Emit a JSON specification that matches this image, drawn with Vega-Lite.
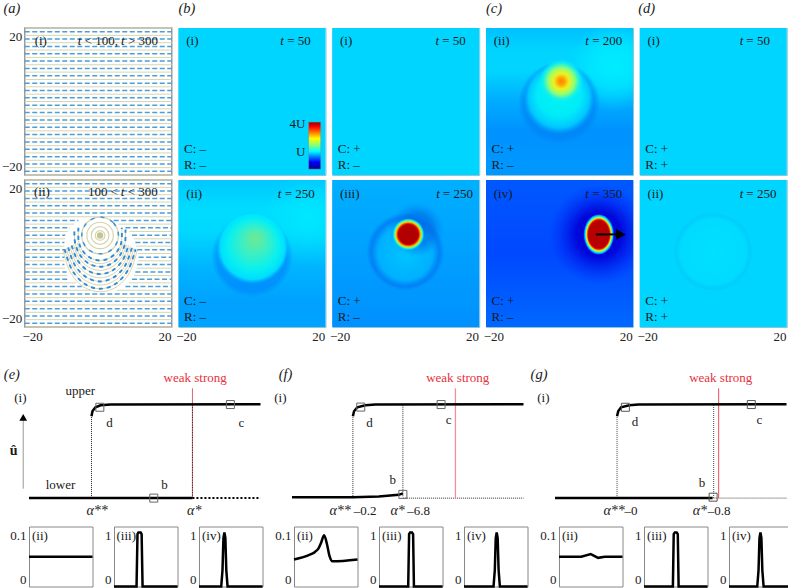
{"$schema":"https://vega.github.io/schema/vega-lite/v6.json","padding":{"left":0,"top":0,"right":0,"bottom":0},"background":"white","config":{"font":"Liberation Serif","view":{"stroke":null},"axis":{"ticks":false,"domain":false,"grid":false,"labelFontSize":13,"labelColor":"#222","labelOverlap":false,"labelPadding":3},"text":{"fontSize":13,"color":"#1a1a1a"}},
"datasets":{
"tanFull":[{"y":20,"x":-20,"x2":20},{"y":18,"x":-20,"x2":20},{"y":16,"x":-20,"x2":20},{"y":14,"x":-20,"x2":20},{"y":12,"x":-20,"x2":20},{"y":10,"x":-20,"x2":20},{"y":8,"x":-20,"x2":20},{"y":6,"x":-20,"x2":20},{"y":4,"x":-20,"x2":20},{"y":2,"x":-20,"x2":20},{"y":0,"x":-20,"x2":20},{"y":-2,"x":-20,"x2":20},{"y":-4,"x":-20,"x2":20},{"y":-6,"x":-20,"x2":20},{"y":-8,"x":-20,"x2":20},{"y":-10,"x":-20,"x2":20},{"y":-12,"x":-20,"x2":20},{"y":-14,"x":-20,"x2":20},{"y":-16,"x":-20,"x2":20},{"y":-18,"x":-20,"x2":20},{"y":-20,"x":-20,"x2":20}],
"blueFull":[{"y":19,"x":-20,"x2":20},{"y":17,"x":-20,"x2":20},{"y":15,"x":-20,"x2":20},{"y":13,"x":-20,"x2":20},{"y":11,"x":-20,"x2":20},{"y":9,"x":-20,"x2":20},{"y":7,"x":-20,"x2":20},{"y":5,"x":-20,"x2":20},{"y":3,"x":-20,"x2":20},{"y":1,"x":-20,"x2":20},{"y":-1,"x":-20,"x2":20},{"y":-3,"x":-20,"x2":20},{"y":-5,"x":-20,"x2":20},{"y":-7,"x":-20,"x2":20},{"y":-9,"x":-20,"x2":20},{"y":-11,"x":-20,"x2":20},{"y":-13,"x":-20,"x2":20},{"y":-15,"x":-20,"x2":20},{"y":-17,"x":-20,"x2":20},{"y":-19,"x":-20,"x2":20}],
"tanGap":[{"y":20,"x":-20,"x2":20},{"y":18,"x":-20,"x2":20},{"y":16,"x":-20,"x2":20},{"y":14,"x":-20,"x2":20},{"y":12,"x":-20,"x2":20},{"y":10,"x":-20,"x2":20},{"y":8,"x":-20,"x2":-6.5},{"y":8,"x":5.5,"x2":20},{"y":6,"x":-20,"x2":-8.3},{"y":6,"x":8.5,"x2":20},{"y":4,"x":-20,"x2":-9},{"y":4,"x":9.7,"x2":20},{"y":2,"x":-20,"x2":-9.2},{"y":2,"x":10.3,"x2":20},{"y":0,"x":-20,"x2":-9.2},{"y":0,"x":10.8,"x2":20},{"y":-2,"x":-20,"x2":-9.2},{"y":-2,"x":10.8,"x2":20},{"y":-4,"x":-20,"x2":-9},{"y":-4,"x":10.4,"x2":20},{"y":-6,"x":-20,"x2":-8.4},{"y":-6,"x":9.7,"x2":20},{"y":-8,"x":-20,"x2":-6},{"y":-8,"x":8.3,"x2":20},{"y":-10,"x":-20,"x2":-2},{"y":-10,"x":5,"x2":20},{"y":-12,"x":-20,"x2":20},{"y":-14,"x":-20,"x2":20},{"y":-16,"x":-20,"x2":20},{"y":-18,"x":-20,"x2":20},{"y":-20,"x":-20,"x2":20}],
"blueGap":[{"y":19,"x":-20,"x2":20},{"y":17,"x":-20,"x2":20},{"y":15,"x":-20,"x2":20},{"y":13,"x":-20,"x2":20},{"y":11,"x":-20,"x2":20},{"y":9,"x":-20,"x2":-5.4},{"y":9,"x":4.2,"x2":20},{"y":7,"x":-20,"x2":-7.7},{"y":7,"x":7.4,"x2":20},{"y":5,"x":-20,"x2":-9},{"y":5,"x":9.2,"x2":20},{"y":3,"x":-20,"x2":-9.2},{"y":3,"x":10.1,"x2":20},{"y":1,"x":-20,"x2":-9.2},{"y":1,"x":10.6,"x2":20},{"y":-1,"x":-20,"x2":-9.2},{"y":-1,"x":11,"x2":20},{"y":-3,"x":-20,"x2":-9.2},{"y":-3,"x":10.6,"x2":20},{"y":-5,"x":-20,"x2":-8.6},{"y":-5,"x":10.1,"x2":20},{"y":-7,"x":-20,"x2":-8.1},{"y":-7,"x":9.2,"x2":20},{"y":-9,"x":-20,"x2":-4.5},{"y":-9,"x":7.4,"x2":20},{"y":-11,"x":-20,"x2":20},{"y":-13,"x":-20,"x2":20},{"y":-15,"x":-20,"x2":20},{"y":-17,"x":-20,"x2":20},{"y":-19,"x":-20,"x2":20}],
"arcs":[{"s":"A","x":-9.16,"y":1.14},{"s":"A","x":-7.16,"y":-4.42},{"s":"A","x":-3.73,"y":-8.24},{"s":"A","x":0.5,"y":-9.6},{"s":"A","x":4.73,"y":-8.24},{"s":"A","x":8.16,"y":-4.42},{"s":"A","x":10.16,"y":1.14},
{"s":"B","x":-8.19,"y":1.66},{"s":"B","x":-6.39,"y":-3.14},{"s":"B","x":-3.31,"y":-6.43},{"s":"B","x":0.5,"y":-7.6},{"s":"B","x":4.31,"y":-6.43},{"s":"B","x":7.39,"y":-3.14},{"s":"B","x":9.19,"y":1.66},
{"s":"C","x":-7.23,"y":2.18},{"s":"C","x":-5.63,"y":-1.85},{"s":"C","x":-2.88,"y":-4.61},{"s":"C","x":0.5,"y":-5.6},{"s":"C","x":3.88,"y":-4.61},{"s":"C","x":6.63,"y":-1.85},{"s":"C","x":8.23,"y":2.18},
{"s":"D","x":-6.5,"y":6},{"s":"D","x":-6.26,"y":2.7},{"s":"D","x":-4.86,"y":-0.57},{"s":"D","x":-2.46,"y":-2.8},{"s":"D","x":0.5,"y":-3.6},{"s":"D","x":3.46,"y":-2.8},{"s":"D","x":5.86,"y":-0.57},{"s":"D","x":7.26,"y":2.7},{"s":"D","x":7.4,"y":6.5},
{"s":"E","x":-5.4,"y":7},{"s":"E","x":-5.3,"y":3.14},{"s":"E","x":-4.1,"y":0.53},{"s":"E","x":-2.04,"y":-1.26},{"s":"E","x":0.5,"y":-1.9},{"s":"E","x":3.04,"y":-1.26},{"s":"E","x":5.1,"y":0.53},{"s":"E","x":6.3,"y":3.14},{"s":"E","x":6.4,"y":7}],
"arcsTan":[{"s":"a","x":-8.68,"y":1.4},{"s":"a","x":-6.78,"y":-3.78},{"s":"a","x":-3.52,"y":-7.33},{"s":"a","x":0.5,"y":-8.6},{"s":"a","x":4.52,"y":-7.33},{"s":"a","x":7.78,"y":-3.78},{"s":"a","x":9.68,"y":1.4},
{"s":"b","x":-7.71,"y":1.92},{"s":"b","x":-6.01,"y":-2.5},{"s":"b","x":-3.1,"y":-5.52},{"s":"b","x":0.5,"y":-6.6},{"s":"b","x":4.1,"y":-5.52},{"s":"b","x":7.01,"y":-2.5},{"s":"b","x":8.71,"y":1.92},
{"s":"c","x":-6.75,"y":2.44},{"s":"c","x":-5.25,"y":-1.21},{"s":"c","x":-2.67,"y":-3.7},{"s":"c","x":0.5,"y":-4.6},{"s":"c","x":3.67,"y":-3.7},{"s":"c","x":6.25,"y":-1.21},{"s":"c","x":7.75,"y":2.44},
{"s":"d","x":-5.78,"y":2.92},{"s":"d","x":-4.48,"y":-0.02},{"s":"d","x":-2.25,"y":-2.03},{"s":"d","x":0.5,"y":-2.75},{"s":"d","x":3.25,"y":-2.03},{"s":"d","x":5.48,"y":-0.02},{"s":"d","x":6.78,"y":2.92},
{"s":"e","x":-9.6,"y":0.9},{"s":"e","x":-7.6,"y":-5.1},{"s":"e","x":-4,"y":-9.1},{"s":"e","x":0.5,"y":-10.4},{"s":"e","x":5,"y":-9.1},{"s":"e","x":8.6,"y":-5.1},{"s":"e","x":10.6,"y":0.9}],
"rings":[{"s":"r5","i":1,"x":5.5,"y":4.9},{"s":"r5","i":2,"x":4.04,"y":8.44},{"s":"r5","i":3,"x":0.5,"y":9.9},{"s":"r5","i":4,"x":-3.04,"y":8.44},{"s":"r5","i":5,"x":-4.5,"y":4.9},{"s":"r5","i":6,"x":-3.04,"y":1.36},{"s":"r5","i":7,"x":0.5,"y":-0.1},{"s":"r5","i":8,"x":4.04,"y":1.36},
{"s":"r3","i":1,"x":4.1,"y":4.9},{"s":"r3","i":2,"x":3.05,"y":7.45},{"s":"r3","i":3,"x":0.5,"y":8.5},{"s":"r3","i":4,"x":-2.05,"y":7.45},{"s":"r3","i":5,"x":-3.1,"y":4.9},{"s":"r3","i":6,"x":-2.05,"y":2.35},{"s":"r3","i":7,"x":0.5,"y":1.3},{"s":"r3","i":8,"x":3.05,"y":2.35},
{"s":"r2","i":1,"x":2.9,"y":4.9},{"s":"r2","i":2,"x":2.2,"y":6.6},{"s":"r2","i":3,"x":0.5,"y":7.3},{"s":"r2","i":4,"x":-1.2,"y":6.6},{"s":"r2","i":5,"x":-1.9,"y":4.9},{"s":"r2","i":6,"x":-1.2,"y":3.2},{"s":"r2","i":7,"x":0.5,"y":2.5},{"s":"r2","i":8,"x":2.2,"y":3.2},
{"s":"r1","i":1,"x":1.8,"y":4.9},{"s":"r1","i":2,"x":1.42,"y":5.82},{"s":"r1","i":3,"x":0.5,"y":6.2},{"s":"r1","i":4,"x":-0.42,"y":5.82},{"s":"r1","i":5,"x":-0.8,"y":4.9},{"s":"r1","i":6,"x":-0.42,"y":3.98},{"s":"r1","i":7,"x":0.5,"y":3.6},{"s":"r1","i":8,"x":1.42,"y":3.98}],
"full":[{"x":-20,"x2":20,"y":-20,"y2":20}]
},
"vconcat":[
{"concat":[
{"width":16.5,"height":10,"data":{"values":[]},"mark":"point"},
{"width":147,"height":147,"view":{"stroke":"#999","strokeWidth":1.5},"encoding":{"x":{"field":"x","type":"quantitative","scale":{"domain":[-20,20]},"axis":null},"y":{"field":"y","type":"quantitative","scale":{"domain":[-20,20]},"axis":{"values":[-17.8,17.8],"labelExpr":"datum.value<0?'−20':'20'","title":null}}},"layer":[
{"data":{"name":"tanFull"},"mark":{"type":"rule","color":"#d8d5b0","strokeWidth":1},"encoding":{"x2":{"field":"x2"}}},
{"data":{"name":"blueFull"},"mark":{"type":"rule","color":"#4a9fdc","strokeWidth":1.5,"strokeDash":[5,2.5]},"encoding":{"x2":{"field":"x2"}}},
{"data":{"values":[{"x":-17.3,"y":16.5,"t":"(i)"},{"x":-3.7,"y":16.5,"t":"< 100,"},{"x":8.1,"y":16.5,"t":"> 300"}]},"mark":{"type":"text","align":"left"},"encoding":{"text":{"field":"t"}}},
{"data":{"values":[{"x":-5.1,"y":16.5,"t":"t"},{"x":6.7,"y":16.5,"t":"t"}]},"mark":{"type":"text","fontStyle":"italic"},"encoding":{"text":{"field":"t"}}},
{"data":{"values":[{"x":-25.8,"y":25.2,"t":"(a)"}]},"mark":{"type":"text","align":"left","fontStyle":"italic","fontSize":14.5},"encoding":{"text":{"field":"t"}}}
]},
{"width":147,"height":147,"view":{"stroke":"#8fc4d8"},"encoding":{"x":{"field":"x","type":"quantitative","scale":{"domain":[-20,20]},"axis":null},"y":{"field":"y","type":"quantitative","scale":{"domain":[-20,20]},"axis":null}},"layer":[
{"data":{"name":"full"},"mark":{"type":"rect","fill":"#00d5ff"},"encoding":{"x2":{"field":"x2"},"y2":{"field":"y2"}}},
{"data":{"values":[{"x":15.4,"x2":18.7,"y":-18.4,"y2":-5.6}]},"mark":{"type":"rect","stroke":"#5a9aa8","strokeWidth":0.5,"fill":{"gradient":"linear","x1":0,"y1":0,"x2":0,"y2":1,"stops":[{"offset":0,"color":"#900000"},{"offset":0.1,"color":"#ff0000"},{"offset":0.35,"color":"#ffff00"},{"offset":0.5,"color":"#80ff80"},{"offset":0.62,"color":"#00ffff"},{"offset":0.85,"color":"#0000ff"},{"offset":1,"color":"#000080"}]}},"encoding":{"x2":{"field":"x2"},"y2":{"field":"y2"}}},
{"data":{"values":[{"x":14.5,"y":-6.1,"t":"4U"},{"x":14.5,"y":-13.7,"t":"U"}]},"mark":{"type":"text","align":"right"},"encoding":{"text":{"field":"t"}}},
{"data":{"values":[{"x":-17.9,"y":16.5,"t":"(i)"},{"x":9.6,"y":16.5,"t":"= 50"},{"x":-18.5,"y":-12.8,"t":"C: –"},{"x":-18.5,"y":-17.4,"t":"R: –"}]},"mark":{"type":"text","align":"left"},"encoding":{"text":{"field":"t"}}},
{"data":{"values":[{"x":8.2,"y":16.5,"t":"t"}]},"mark":{"type":"text","fontStyle":"italic"},"encoding":{"text":{"field":"t"}}},
{"data":{"values":[{"x":-20,"y":25.2,"t":"(b)"}]},"mark":{"type":"text","align":"left","fontStyle":"italic","fontSize":14.5},"encoding":{"text":{"field":"t"}}}
]},
{"width":147,"height":147,"view":{"stroke":"#8fc4d8"},"encoding":{"x":{"field":"x","type":"quantitative","scale":{"domain":[-20,20]},"axis":null},"y":{"field":"y","type":"quantitative","scale":{"domain":[-20,20]},"axis":null}},"layer":[
{"data":{"name":"full"},"mark":{"type":"rect","fill":"#00d5ff"},"encoding":{"x2":{"field":"x2"},"y2":{"field":"y2"}}},
{"data":{"values":[{"x":-17.9,"y":16.5,"t":"(i)"},{"x":9.9,"y":16.5,"t":"= 50"},{"x":-18.5,"y":-12.8,"t":"C: +"},{"x":-18.5,"y":-17.4,"t":"R: –"}]},"mark":{"type":"text","align":"left"},"encoding":{"text":{"field":"t"}}},
{"data":{"values":[{"x":8.6,"y":16.5,"t":"t"}]},"mark":{"type":"text","fontStyle":"italic"},"encoding":{"text":{"field":"t"}}}
]},
{"width":147,"height":147,"view":{"stroke":"#8fc4d8"},"encoding":{"x":{"field":"x","type":"quantitative","scale":{"domain":[-20,20]},"axis":null},"y":{"field":"y","type":"quantitative","scale":{"domain":[-20,20]},"axis":null}},"layer":[
{"data":{"name":"full"},"mark":{"type":"rect","fill":{"gradient":"linear","x1":0,"y1":0,"x2":0,"y2":1,"stops":[{"offset":0,"color":"#00c0ff"},{"offset":0.15,"color":"#00d4ff"},{"offset":0.3,"color":"#00d4ff"},{"offset":0.5,"color":"#00acff"},{"offset":0.7,"color":"#0092ff"},{"offset":1,"color":"#0098ff"}]}},"encoding":{"x2":{"field":"x2"},"y2":{"field":"y2"}}},
{"data":{"values":[{"x":15,"y":9.5}]},"mark":{"type":"point","filled":true,"opacity":1,"size":8100,"clip":true,"fill":{"gradient":"radial","x1":0.5,"y1":0.5,"r1":0,"x2":0.5,"y2":0.5,"r2":0.5,"stops":[{"offset":0,"color":"rgba(0,240,255,0.85)"},{"offset":0.5,"color":"rgba(0,240,255,0.6)"},{"offset":1,"color":"rgba(0,240,255,0)"}]}}},
{"data":{"values":[{"x":-0.1,"y":-0.5}]},"mark":{"type":"point","filled":true,"opacity":1,"size":6724,"fill":{"gradient":"radial","x1":0.5,"y1":0.5,"r1":0,"x2":0.5,"y2":0.5,"r2":0.5,"stops":[{"offset":0,"color":"rgba(0,130,245,0.7)"},{"offset":0.85,"color":"rgba(0,130,245,0.7)"},{"offset":1,"color":"rgba(0,130,245,0)"}]}}},
{"data":{"values":[{"x":-0.1,"y":0.8}]},"mark":{"type":"point","filled":true,"opacity":1,"size":5184,"fill":{"gradient":"radial","x1":0.5,"y1":0.35,"r1":0,"x2":0.5,"y2":0.5,"r2":0.5,"stops":[{"offset":0,"color":"#00f4f0"},{"offset":0.6,"color":"#00ecf8"},{"offset":0.85,"color":"#00c8ff"},{"offset":1,"color":"rgba(0,170,255,0)"}]}}},
{"data":{"values":[{"x":0.5,"y":5.5}]},"mark":{"type":"point","filled":true,"opacity":1,"size":1936,"fill":{"gradient":"radial","x1":0.5,"y1":0.5,"r1":0,"x2":0.5,"y2":0.5,"r2":0.5,"stops":[{"offset":0,"color":"#ff8000"},{"offset":0.15,"color":"#ffa000"},{"offset":0.35,"color":"#f0f020"},{"offset":0.6,"color":"#90ff70"},{"offset":0.8,"color":"#20f0e0"},{"offset":1,"color":"rgba(0,240,255,0)"}]}}},
{"data":{"values":[{"x":-17.9,"y":16.5,"t":"(ii)"},{"x":8.9,"y":16.5,"t":"= 200"},{"x":-18.5,"y":-12.8,"t":"C: +"},{"x":-18.5,"y":-17.4,"t":"R: –"}]},"mark":{"type":"text","align":"left"},"encoding":{"text":{"field":"t"}}},
{"data":{"values":[{"x":7.5,"y":16.5,"t":"t"}]},"mark":{"type":"text","fontStyle":"italic"},"encoding":{"text":{"field":"t"}}},
{"data":{"values":[{"x":-20,"y":25.2,"t":"(c)"}]},"mark":{"type":"text","align":"left","fontStyle":"italic","fontSize":14.5},"encoding":{"text":{"field":"t"}}}
]},
{"width":147,"height":147,"view":{"stroke":"#8fc4d8"},"encoding":{"x":{"field":"x","type":"quantitative","scale":{"domain":[-20,20]},"axis":null},"y":{"field":"y","type":"quantitative","scale":{"domain":[-20,20]},"axis":null}},"layer":[
{"data":{"name":"full"},"mark":{"type":"rect","fill":"#00d5ff"},"encoding":{"x2":{"field":"x2"},"y2":{"field":"y2"}}},
{"data":{"values":[{"x":-17.9,"y":16.5,"t":"(i)"},{"x":9,"y":16.5,"t":"= 50"},{"x":-18.5,"y":-12.8,"t":"C: +"},{"x":-18.5,"y":-17.4,"t":"R: +"}]},"mark":{"type":"text","align":"left"},"encoding":{"text":{"field":"t"}}},
{"data":{"values":[{"x":7.7,"y":16.5,"t":"t"}]},"mark":{"type":"text","fontStyle":"italic"},"encoding":{"text":{"field":"t"}}},
{"data":{"values":[{"x":-20.4,"y":25.2,"t":"(d)"}]},"mark":{"type":"text","align":"left","fontStyle":"italic","fontSize":14.5},"encoding":{"text":{"field":"t"}}}
]},
{"width":16.5,"height":10,"data":{"values":[]},"mark":"point"},
{"width":147,"height":147,"view":{"stroke":"#999","strokeWidth":1.5},"encoding":{"x":{"field":"x","type":"quantitative","scale":{"domain":[-20,20]},"axis":{"values":[-18,18],"labelExpr":"datum.value<0?'−20':'20'","title":null}},"y":{"field":"y","type":"quantitative","scale":{"domain":[-20,20]},"axis":{"values":[-17.8,17.8],"labelExpr":"datum.value<0?'−20':'20'","title":null}}},"layer":[
{"data":{"name":"tanGap"},"mark":{"type":"rule","color":"#d8d5b0","strokeWidth":1},"encoding":{"x2":{"field":"x2"}}},
{"data":{"name":"arcsTan"},"mark":{"type":"line","color":"#d8d5b0","strokeWidth":1,"interpolate":"cardinal"},"encoding":{"detail":{"field":"s"}}},
{"data":{"name":"arcs"},"mark":{"type":"line","color":"#d8d5b0","strokeWidth":1,"interpolate":"cardinal"},"encoding":{"detail":{"field":"s"}}},
{"data":{"name":"rings"},"mark":{"type":"line","color":"#d6d4ac","strokeWidth":1.2,"interpolate":"cardinal-closed"},"encoding":{"detail":{"field":"s"},"order":{"field":"i"}}},
{"data":{"values":[{"x":0.5,"y":4.9}]},"mark":{"type":"point","filled":true,"opacity":1,"size":40,"color":"#c4c490"}},
{"data":{"name":"blueGap"},"mark":{"type":"rule","color":"#4a9fdc","strokeWidth":1.5,"strokeDash":[5,2.5]},"encoding":{"x2":{"field":"x2"}}},
{"data":{"name":"arcs"},"mark":{"type":"line","color":"#2f8ad8","strokeWidth":1.9,"strokeDash":[4,4],"interpolate":"cardinal"},"encoding":{"detail":{"field":"s"}}},
{"data":{"values":[{"s":"r5","i":1,"x":5.5,"y":4.9},{"s":"r5","i":2,"x":4.04,"y":8.44},{"s":"r5","i":3,"x":0.5,"y":9.9},{"s":"r5","i":4,"x":-3.04,"y":8.44},{"s":"r5","i":5,"x":-4.5,"y":4.9},{"s":"r5","i":6,"x":-3.04,"y":1.36},{"s":"r5","i":7,"x":0.5,"y":-0.1},{"s":"r5","i":8,"x":4.04,"y":1.36}]},"mark":{"type":"line","color":"#3d96dc","strokeWidth":1.5,"strokeDash":[4,6],"interpolate":"cardinal-closed"},"encoding":{"order":{"field":"i"}}},
{"data":{"values":[{"x":-17.5,"y":16.8,"t":"(ii)"},{"x":-2.8,"y":16.8,"t":"100 <"},{"x":8,"y":16.8,"t":"< 300"}]},"mark":{"type":"text","align":"left"},"encoding":{"text":{"field":"t"}}},
{"data":{"values":[{"x":6.6,"y":16.8,"t":"t"}]},"mark":{"type":"text","fontStyle":"italic"},"encoding":{"text":{"field":"t"}}}
]},
{"width":147,"height":147,"view":{"stroke":"#8fc4d8"},"encoding":{"x":{"field":"x","type":"quantitative","scale":{"domain":[-20,20]},"axis":{"values":[-18,18],"labelExpr":"datum.value<0?'−20':'20'","title":null}},"y":{"field":"y","type":"quantitative","scale":{"domain":[-20,20]},"axis":null}},"layer":[
{"data":{"name":"full"},"mark":{"type":"rect","fill":{"gradient":"linear","x1":0,"y1":0,"x2":0,"y2":1,"stops":[{"offset":0,"color":"#00c8ff"},{"offset":0.2,"color":"#00dcff"},{"offset":0.35,"color":"#00d8ff"},{"offset":0.6,"color":"#00b4ff"},{"offset":0.85,"color":"#00a0ff"},{"offset":1,"color":"#00a4ff"}]}},"encoding":{"x2":{"field":"x2"},"y2":{"field":"y2"}}},
{"data":{"values":[{"x":15,"y":9.5}]},"mark":{"type":"point","filled":true,"opacity":1,"size":8100,"clip":true,"fill":{"gradient":"radial","x1":0.5,"y1":0.5,"r1":0,"x2":0.5,"y2":0.5,"r2":0.5,"stops":[{"offset":0,"color":"rgba(0,240,255,0.6)"},{"offset":1,"color":"rgba(0,240,255,0)"}]}}},
{"data":{"values":[{"x":0,"y":-0.8}]},"mark":{"type":"point","filled":true,"opacity":1,"size":6724,"fill":{"gradient":"radial","x1":0.5,"y1":0.5,"r1":0,"x2":0.5,"y2":0.5,"r2":0.5,"stops":[{"offset":0,"color":"rgba(0,130,250,0.6)"},{"offset":0.85,"color":"rgba(0,130,250,0.6)"},{"offset":1,"color":"rgba(0,130,250,0)"}]}}},
{"data":{"values":[{"x":0.1,"y":1.5}]},"mark":{"type":"point","filled":true,"opacity":1,"size":5184,"fill":{"gradient":"radial","x1":0.55,"y1":0.35,"r1":0,"x2":0.5,"y2":0.5,"r2":0.5,"stops":[{"offset":0,"color":"#70e890"},{"offset":0.35,"color":"#40eec0"},{"offset":0.7,"color":"#08f0f0"},{"offset":0.9,"color":"rgba(0,230,255,0.9)"},{"offset":1,"color":"rgba(0,200,255,0)"}]}}},
{"data":{"values":[{"x":-17.9,"y":16.2,"t":"(ii)"},{"x":8.9,"y":16.2,"t":"= 250"},{"x":-18.5,"y":-12.8,"t":"C: –"},{"x":-18.5,"y":-17.4,"t":"R: –"}]},"mark":{"type":"text","align":"left"},"encoding":{"text":{"field":"t"}}},
{"data":{"values":[{"x":7.5,"y":16.2,"t":"t"}]},"mark":{"type":"text","fontStyle":"italic"},"encoding":{"text":{"field":"t"}}}
]},
{"width":147,"height":147,"view":{"stroke":"#8fc4d8"},"encoding":{"x":{"field":"x","type":"quantitative","scale":{"domain":[-20,20]},"axis":{"values":[-18,18],"labelExpr":"datum.value<0?'−20':'20'","title":null}},"y":{"field":"y","type":"quantitative","scale":{"domain":[-20,20]},"axis":null}},"layer":[
{"data":{"name":"full"},"mark":{"type":"rect","fill":{"gradient":"linear","x1":0,"y1":0,"x2":0,"y2":1,"stops":[{"offset":0,"color":"#00b0ff"},{"offset":0.5,"color":"#00a0ff"},{"offset":1,"color":"#0090ff"}]}},"encoding":{"x2":{"field":"x2"},"y2":{"field":"y2"}}},
{"data":{"values":[{"x":-0.1,"y":0.5}]},"mark":{"type":"point","filled":true,"opacity":1,"size":6084,"fill":{"gradient":"radial","x1":0.5,"y1":0.55,"r1":0,"x2":0.5,"y2":0.5,"r2":0.5,"stops":[{"offset":0,"color":"#00c4ff"},{"offset":0.7,"color":"#00b0ff"},{"offset":0.88,"color":"rgba(0,125,245,0.9)"},{"offset":1,"color":"rgba(0,130,245,0)"}]}}},
{"data":{"values":[{"x":3,"y":6.5}]},"mark":{"type":"point","filled":true,"opacity":1,"size":3000,"fill":{"gradient":"radial","x1":0.5,"y1":0.5,"r1":0,"x2":0.5,"y2":0.5,"r2":0.5,"stops":[{"offset":0,"color":"rgba(0,100,225,0.8)"},{"offset":0.6,"color":"rgba(0,105,230,0.6)"},{"offset":1,"color":"rgba(0,130,245,0)"}]}}},
{"data":{"values":[{"x":0.7,"y":5.2}]},"mark":{"type":"point","filled":true,"opacity":1,"size":1024,"fill":{"gradient":"radial","x1":0.5,"y1":0.5,"r1":0,"x2":0.5,"y2":0.5,"r2":0.5,"stops":[{"offset":0,"color":"#b00000"},{"offset":0.6,"color":"#b00000"},{"offset":0.68,"color":"#f01000"},{"offset":0.74,"color":"#ffa000"},{"offset":0.8,"color":"#e0f000"},{"offset":0.86,"color":"#40ffb0"},{"offset":0.93,"color":"#00e0ff"},{"offset":1,"color":"rgba(0,170,255,0)"}]}}},
{"data":{"values":[{"x":-17.9,"y":16.2,"t":"(iii)"},{"x":10.1,"y":16.2,"t":"= 250"},{"x":-18.5,"y":-12.8,"t":"C: +"},{"x":-18.5,"y":-17.4,"t":"R: –"}]},"mark":{"type":"text","align":"left"},"encoding":{"text":{"field":"t"}}},
{"data":{"values":[{"x":8.8,"y":16.2,"t":"t"}]},"mark":{"type":"text","fontStyle":"italic"},"encoding":{"text":{"field":"t"}}}
]},
{"width":147,"height":147,"view":{"stroke":"#8fc4d8"},"encoding":{"x":{"field":"x","type":"quantitative","scale":{"domain":[-20,20]},"axis":{"values":[-18,18],"labelExpr":"datum.value<0?'−20':'20'","title":null}},"y":{"field":"y","type":"quantitative","scale":{"domain":[-20,20]},"axis":null}},"layer":[
{"data":{"name":"full"},"mark":{"type":"rect","fill":{"gradient":"linear","x1":0,"y1":0,"x2":0,"y2":1,"stops":[{"offset":0,"color":"#0058ff"},{"offset":0.5,"color":"#0048ff"},{"offset":1,"color":"#0068ff"}]}},"encoding":{"x2":{"field":"x2"},"y2":{"field":"y2"}}},
{"data":{"values":[{"x":10.7,"y":5.2}]},"mark":{"type":"point","filled":true,"opacity":1,"size":10000,"clip":true,"fill":{"gradient":"radial","x1":0.5,"y1":0.5,"r1":0,"x2":0.5,"y2":0.5,"r2":0.5,"stops":[{"offset":0,"color":"rgba(0,0,200,1)"},{"offset":0.45,"color":"rgba(0,0,215,0.9)"},{"offset":1,"color":"rgba(0,40,255,0)"}]}}},
{"data":{"values":[{"x":10.7,"y":5.2,"level":1},{"x":10.7,"y":5.2,"level":2},{"x":10.7,"y":5.2,"level":3},{"x":10.7,"y":5.2,"level":4},{"x":10.7,"y":5.2,"level":5},{"x":10.7,"y":5.2,"level":6},{"x":10.7,"y":5.2,"level":7},{"x":10.7,"y":5.2,"level":8}]},"mark":{"type":"point","filled":true,"opacity":1,"shape":"M -0.75,0 A 0.75,1 0 1,1 0.75,0 A 0.75,1 0 1,1 -0.75,0 Z"},"encoding":{"order":{"field":"level"},"color":{"field":"level","type":"ordinal","scale":{"domain":[1,2,3,4,5,6,7,8],"range":["#0060ff","#00b0ff","#00f0f0","#70ff90","#f0f000","#ff8000","#e01000","#b80000"]},"legend":null},"size":{"field":"level","type":"quantitative","scale":{"domain":[1,8],"range":[1600,800],"zero":false},"legend":null}}},
{"data":{"values":[{"x":9.9,"y":5.2,"x2":16.5}]},"mark":{"type":"rule","color":"#000","strokeWidth":2},"encoding":{"x2":{"field":"x2"}}},
{"data":{"values":[{"x":16.7,"y":5.2}]},"mark":{"type":"point","filled":true,"opacity":1,"shape":"triangle-right","size":120,"color":"#000"}},
{"data":{"values":[{"x":-17.9,"y":16.2,"t":"(iv)"},{"x":8.9,"y":16.2,"t":"= 350"},{"x":-18.5,"y":-12.8,"t":"C: +"},{"x":-18.5,"y":-17.4,"t":"R: –"}]},"mark":{"type":"text","align":"left"},"encoding":{"text":{"field":"t"}}},
{"data":{"values":[{"x":7.5,"y":16.2,"t":"t"}]},"mark":{"type":"text","fontStyle":"italic"},"encoding":{"text":{"field":"t"}}}
]},
{"width":147,"height":147,"view":{"stroke":"#8fc4d8"},"encoding":{"x":{"field":"x","type":"quantitative","scale":{"domain":[-20,20]},"axis":{"values":[-18,18],"labelExpr":"datum.value<0?'−20':'20'","title":null}},"y":{"field":"y","type":"quantitative","scale":{"domain":[-20,20]},"axis":null}},"layer":[
{"data":{"name":"full"},"mark":{"type":"rect","fill":"#00d5ff"},"encoding":{"x2":{"field":"x2"},"y2":{"field":"y2"}}},
{"data":{"values":[{"x":0,"y":0.5}]},"mark":{"type":"point","filled":true,"opacity":1,"size":6400,"fill":{"gradient":"radial","x1":0.5,"y1":0.5,"r1":0,"x2":0.5,"y2":0.5,"r2":0.5,"stops":[{"offset":0,"color":"#00e0ff"},{"offset":0.82,"color":"#00dbff"},{"offset":0.93,"color":"rgba(0,203,252,0.8)"},{"offset":1,"color":"rgba(0,205,255,0)"}]}}},
{"data":{"values":[{"x":-17.9,"y":16.2,"t":"(ii)"},{"x":9,"y":16.2,"t":"= 250"},{"x":-18.5,"y":-12.8,"t":"C: +"},{"x":-18.5,"y":-17.4,"t":"R: +"}]},"mark":{"type":"text","align":"left"},"encoding":{"text":{"field":"t"}}},
{"data":{"values":[{"x":7.7,"y":16.2,"t":"t"}]},"mark":{"type":"text","fontStyle":"italic"},"encoding":{"text":{"field":"t"}}}
]}
],"columns":6,"spacing":{"row":5,"column":6.75},"bounds":"flush"},
{"vconcat":[
{"hconcat":[
{"width":28,"height":10,"data":{"values":[]},"mark":"point"},
{"width":231.5,"height":122,"encoding":{"x":{"field":"x","type":"quantitative","scale":{"domain":[0,100]},"axis":null},"y":{"field":"y","type":"quantitative","scale":{"domain":[-0.1,1.2]},"axis":null}},"layer":[
{"data":{"values":[{"s":"a","x":-2.5,"y":0.1},{"s":"a","x":-2.5,"y":0.84}]},"mark":{"type":"line","color":"#999","strokeWidth":1},"encoding":{"detail":{"field":"s"}}},
{"data":{"values":[{"x":-2.5,"y":0.86}]},"mark":{"type":"point","filled":true,"opacity":1,"shape":"triangle-up","size":60,"color":"#000"}},
{"data":{"values":[{"s":"v","x":27,"y":0},{"s":"v","x":27,"y":0.87}]},"mark":{"type":"line","color":"#222","strokeWidth":1,"strokeDash":[1,1]},"encoding":{"detail":{"field":"s"}}},
{"data":{"values":[{"x":70.6,"y":0},{"x":70.6,"y":1.17}]},"mark":{"type":"line","color":"#e8606c","strokeWidth":1}},
{"data":{"values":[{"x":70.6,"y":0},{"x":70.6,"y":1}]},"mark":{"type":"line","color":"#222","strokeWidth":1,"strokeDash":[1,1.5]}},
{"data":{"values":[{"x":70.6,"y":0},{"x":100,"y":0}]},"mark":{"type":"line","color":"#000","strokeWidth":2,"strokeDash":[2,2]}},
{"data":{"values":[{"s":"l","x":0,"y":0},{"s":"l","x":70.6,"y":0},{"s":"u","x":27,"y":0.872},{"s":"u","x":27.4,"y":0.926},{"s":"u","x":28.7,"y":0.968},{"s":"u","x":30.9,"y":0.989},{"s":"u","x":35.2,"y":0.997},{"s":"u","x":100,"y":1}]},"mark":{"type":"line","color":"#000","strokeWidth":2.5},"encoding":{"detail":{"field":"s"}}},
{"data":{"values":[{"x":30.6,"y":0.968},{"x":53.9,"y":0},{"x":87,"y":0.997}]},"mark":{"type":"point","shape":"square","size":64,"color":"#666","strokeWidth":1,"opacity":1}},
{"data":{"values":[{"x":22.2,"y":1.14,"t":"upper"},{"x":34.8,"y":0.8,"t":"d"},{"x":91.7,"y":0.8,"t":"c"},{"x":13.6,"y":0.14,"t":"lower"},{"x":58.5,"y":0.14,"t":"b"},{"x":-3.7,"y":1.07,"t":"(i)"}]},"mark":{"type":"text"},"encoding":{"text":{"field":"t"}}},
{"data":{"values":[{"x":-6.6,"y":0.5,"t":"û"}]},"mark":{"type":"text","fontWeight":"bold","fontSize":14},"encoding":{"text":{"field":"t"}}},
{"data":{"values":[{"x":71.8,"y":1.28,"t":"weak strong"}]},"mark":{"type":"text","color":"#e8303c"},"encoding":{"text":{"field":"t"}}},
{"data":{"values":[{"x":24.8,"y":-0.14,"t":"α**"},{"x":68.3,"y":-0.14,"t":"α*"}]},"mark":{"type":"text","align":"left","fontStyle":"italic","fontSize":14},"encoding":{"text":{"field":"t"}}},
{"data":{"values":[{"x":-7.4,"y":1.31,"t":"(e)"}]},"mark":{"type":"text","fontStyle":"italic","fontSize":14.5},"encoding":{"text":{"field":"t"}}}
]},
{"width":31,"height":10,"data":{"values":[]},"mark":"point"},
{"width":231.5,"height":122,"encoding":{"x":{"field":"x","type":"quantitative","scale":{"domain":[0,100]},"axis":null},"y":{"field":"y","type":"quantitative","scale":{"domain":[-0.1,1.2]},"axis":null}},"layer":[
{"data":{"values":[{"s":"v1","x":26.3,"y":0},{"s":"v1","x":26.3,"y":0.87},{"s":"v2","x":47.9,"y":0.02},{"s":"v2","x":47.9,"y":1},{"s":"h","x":47.9,"y":0},{"s":"h","x":100,"y":0}]},"mark":{"type":"line","color":"#333","strokeWidth":1,"strokeDash":[1,1]},"encoding":{"detail":{"field":"s"}}},
{"data":{"values":[{"x":70.6,"y":0},{"x":70.6,"y":1.17}]},"mark":{"type":"line","color":"#f09098","strokeWidth":1.3}},
{"data":{"values":[{"s":"l","x":0,"y":0.01},{"s":"l","x":26.3,"y":0.01},{"s":"l","x":37.5,"y":0.018},{"s":"l","x":46.1,"y":0.035},{"s":"l","x":47.9,"y":0.05},{"s":"u","x":26.3,"y":0.872},{"s":"u","x":26.8,"y":0.926},{"s":"u","x":28.2,"y":0.968},{"s":"u","x":31.7,"y":0.99},{"s":"u","x":36,"y":0.997},{"s":"u","x":100,"y":1}]},"mark":{"type":"line","color":"#000","strokeWidth":2.5},"encoding":{"detail":{"field":"s"}}},
{"data":{"values":[{"x":29.7,"y":0.97},{"x":47.9,"y":0.04},{"x":64.4,"y":0.997}]},"mark":{"type":"point","shape":"square","size":64,"color":"#666","strokeWidth":1,"opacity":1}},
{"data":{"values":[{"x":33.5,"y":0.8,"t":"d"},{"x":67.7,"y":0.83,"t":"c"},{"x":43.5,"y":0.19,"t":"b"},{"x":-5,"y":1.07,"t":"(i)"}]},"mark":{"type":"text"},"encoding":{"text":{"field":"t"}}},
{"data":{"values":[{"x":71.6,"y":1.28,"t":"weak strong"}]},"mark":{"type":"text","color":"#e8303c"},"encoding":{"text":{"field":"t"}}},
{"data":{"values":[{"x":16.2,"y":-0.14,"t":"α**"},{"x":42.5,"y":-0.14,"t":"α*"}]},"mark":{"type":"text","align":"left","fontStyle":"italic","fontSize":14},"encoding":{"text":{"field":"t"}}},
{"data":{"values":[{"x":26.7,"y":-0.14,"t":"–0.2"},{"x":49.8,"y":-0.14,"t":"–6.8"}]},"mark":{"type":"text","align":"left"},"encoding":{"text":{"field":"t"}}},
{"data":{"values":[{"x":-2.8,"y":1.31,"t":"(f)"}]},"mark":{"type":"text","fontStyle":"italic","fontSize":14.5},"encoding":{"text":{"field":"t"}}}
]},
{"width":31,"height":10,"data":{"values":[]},"mark":"point"},
{"width":231.5,"height":122,"encoding":{"x":{"field":"x","type":"quantitative","scale":{"domain":[0,100]},"axis":null},"y":{"field":"y","type":"quantitative","scale":{"domain":[-0.1,1.2]},"axis":null}},"layer":[
{"data":{"values":[{"s":"v1","x":26.8,"y":0},{"s":"v1","x":26.8,"y":0.87},{"s":"h","x":68.5,"y":0},{"s":"h","x":100,"y":0}]},"mark":{"type":"line","color":"#444","strokeWidth":1,"strokeDash":[1,1]},"encoding":{"detail":{"field":"s"}}},
{"data":{"values":[{"x":68.5,"y":0},{"x":68.5,"y":1}]},"mark":{"type":"line","color":"#666","strokeWidth":1.2,"strokeDash":[1,1]}},
{"data":{"values":[{"x":70.7,"y":0},{"x":70.7,"y":1.17}]},"mark":{"type":"line","color":"#e8505c","strokeWidth":1}},
{"data":{"values":[{"s":"l","x":0,"y":0},{"s":"l","x":68.1,"y":0},{"s":"u","x":26.8,"y":0.872},{"s":"u","x":27.3,"y":0.926},{"s":"u","x":28.5,"y":0.968},{"s":"u","x":32.1,"y":0.99},{"s":"u","x":36,"y":0.997},{"s":"u","x":100,"y":1}]},"mark":{"type":"line","color":"#000","strokeWidth":2.5},"encoding":{"detail":{"field":"s"}}},
{"data":{"values":[{"x":30.4,"y":0.968},{"x":68.3,"y":0.01},{"x":84.8,"y":0.997}]},"mark":{"type":"point","shape":"square","size":64,"color":"#555","strokeWidth":1,"opacity":1}},
{"data":{"values":[{"x":34.6,"y":0.81,"t":"d"},{"x":88.3,"y":0.83,"t":"c"},{"x":63.5,"y":0.16,"t":"b"},{"x":-5,"y":1.07,"t":"(i)"}]},"mark":{"type":"text"},"encoding":{"text":{"field":"t"}}},
{"data":{"values":[{"x":71.6,"y":1.28,"t":"weak strong"}]},"mark":{"type":"text","color":"#e8303c"},"encoding":{"text":{"field":"t"}}},
{"data":{"values":[{"x":20.9,"y":-0.14,"t":"α**"},{"x":59.5,"y":-0.14,"t":"α*"}]},"mark":{"type":"text","align":"left","fontStyle":"italic","fontSize":14},"encoding":{"text":{"field":"t"}}},
{"data":{"values":[{"x":30,"y":-0.14,"t":"–0"},{"x":66,"y":-0.14,"t":"–0.8"}]},"mark":{"type":"text","align":"left"},"encoding":{"text":{"field":"t"}}},
{"data":{"values":[{"x":-6.9,"y":1.31,"t":"(g)"}]},"mark":{"type":"text","fontStyle":"italic","fontSize":14.5},"encoding":{"text":{"field":"t"}}}
]}
],"spacing":0,"bounds":"flush"},
{"hconcat":[
{"width":28,"height":10,"data":{"values":[]},"mark":"point"},
{"width":63.5,"height":60,"view":{"stroke":"#888"},"encoding":{"x":{"field":"x","type":"quantitative","scale":{"domain":[0,100]},"axis":null},"y":{"field":"y","type":"quantitative","scale":{"domain":[0,0.111]},"axis":{"values":[0.013,0.094],"labelExpr":"datum.value<0.05?'0':'0.1'","title":null}}},"layer":[
{"data":{"values":[{"x":0,"y":0.055},{"x":100,"y":0.055}]},"mark":{"type":"line","color":"#000","strokeWidth":2.5}},
{"data":{"values":[{"x":4.7,"y":0.094,"t":"(ii)"}]},"mark":{"type":"text","align":"left"},"encoding":{"text":{"field":"t"}}}]},
{"width":20.5,"height":10,"data":{"values":[]},"mark":"point"},
{"width":63.5,"height":60,"view":{"stroke":"#888"},"encoding":{"x":{"field":"x","type":"quantitative","scale":{"domain":[0,100]},"axis":null},"y":{"field":"y","type":"quantitative","scale":{"domain":[0,1.11]},"axis":{"values":[0.13,0.94],"labelExpr":"datum.value<0.5?'0':'1'","title":null}}},"layer":[
{"data":{"values":[{"x":0,"y":0},{"x":35.5,"y":0},{"x":37,"y":0.97},{"x":38.5,"y":1},{"x":42,"y":1},{"x":43.5,"y":0.97},{"x":45,"y":0},{"x":100,"y":0}]},"mark":{"type":"line","color":"#000","strokeWidth":2.5}},
{"data":{"values":[{"x":4,"y":0.94,"t":"(iii)"}]},"mark":{"type":"text","align":"left"},"encoding":{"text":{"field":"t"}}}]},
{"width":20.5,"height":10,"data":{"values":[]},"mark":"point"},
{"width":63.5,"height":60,"view":{"stroke":"#888"},"encoding":{"x":{"field":"x","type":"quantitative","scale":{"domain":[0,100]},"axis":null},"y":{"field":"y","type":"quantitative","scale":{"domain":[0,1.11]},"axis":{"values":[0.13,0.94],"labelExpr":"datum.value<0.5?'0':'1'","title":null}}},"layer":[
{"data":{"values":[{"x":0,"y":0},{"x":35,"y":0},{"x":37,"y":0.3},{"x":38.5,"y":0.9},{"x":40,"y":1},{"x":41.5,"y":0.9},{"x":43,"y":0.3},{"x":45,"y":0},{"x":100,"y":0}]},"mark":{"type":"line","color":"#000","strokeWidth":2.5}},
{"data":{"values":[{"x":4.7,"y":0.94,"t":"(iv)"}]},"mark":{"type":"text","align":"left"},"encoding":{"text":{"field":"t"}}}]},
{"width":31,"height":10,"data":{"values":[]},"mark":"point"},
{"width":63.5,"height":60,"view":{"stroke":"#888"},"encoding":{"x":{"field":"x","type":"quantitative","scale":{"domain":[0,100]},"axis":null},"y":{"field":"y","type":"quantitative","scale":{"domain":[0,0.111]},"axis":{"values":[0.013,0.094],"labelExpr":"datum.value<0.05?'0':'0.1'","title":null}}},"layer":[
{"data":{"values":[{"x":0,"y":0.05},{"x":25,"y":0.059},{"x":33,"y":0.064},{"x":38.4,"y":0.07},{"x":43,"y":0.082},{"x":47.4,"y":0.095},{"x":51.6,"y":0.08},{"x":56,"y":0.056},{"x":60.5,"y":0.0465},{"x":100,"y":0.05}]},"mark":{"type":"line","color":"#000","strokeWidth":2.5,"interpolate":"monotone"}},
{"data":{"values":[{"x":4.7,"y":0.094,"t":"(ii)"}]},"mark":{"type":"text","align":"left"},"encoding":{"text":{"field":"t"}}}]},
{"width":20.5,"height":10,"data":{"values":[]},"mark":"point"},
{"width":63.5,"height":60,"view":{"stroke":"#888"},"encoding":{"x":{"field":"x","type":"quantitative","scale":{"domain":[0,100]},"axis":null},"y":{"field":"y","type":"quantitative","scale":{"domain":[0,1.11]},"axis":{"values":[0.13,0.94],"labelExpr":"datum.value<0.5?'0':'1'","title":null}}},"layer":[
{"data":{"values":[{"x":0,"y":0},{"x":46,"y":0},{"x":47.4,"y":0.97},{"x":49,"y":1},{"x":52,"y":1},{"x":53.7,"y":0.97},{"x":55,"y":0},{"x":100,"y":0}]},"mark":{"type":"line","color":"#000","strokeWidth":2.5}},
{"data":{"values":[{"x":4.7,"y":0.94,"t":"(iii)"}]},"mark":{"type":"text","align":"left"},"encoding":{"text":{"field":"t"}}}]},
{"width":20.5,"height":10,"data":{"values":[]},"mark":"point"},
{"width":63.5,"height":60,"view":{"stroke":"#888"},"encoding":{"x":{"field":"x","type":"quantitative","scale":{"domain":[0,100]},"axis":null},"y":{"field":"y","type":"quantitative","scale":{"domain":[0,1.11]},"axis":{"values":[0.13,0.94],"labelExpr":"datum.value<0.5?'0':'1'","title":null}}},"layer":[
{"data":{"values":[{"x":0,"y":0},{"x":46.5,"y":0},{"x":48.5,"y":0.3},{"x":50,"y":0.9},{"x":51.5,"y":1},{"x":53,"y":0.9},{"x":54.5,"y":0.3},{"x":56.5,"y":0},{"x":100,"y":0}]},"mark":{"type":"line","color":"#000","strokeWidth":2.5}},
{"data":{"values":[{"x":4.7,"y":0.94,"t":"(iv)"}]},"mark":{"type":"text","align":"left"},"encoding":{"text":{"field":"t"}}}]},
{"width":31,"height":10,"data":{"values":[]},"mark":"point"},
{"width":63.5,"height":60,"view":{"stroke":"#888"},"encoding":{"x":{"field":"x","type":"quantitative","scale":{"domain":[0,100]},"axis":null},"y":{"field":"y","type":"quantitative","scale":{"domain":[0,0.111]},"axis":{"values":[0.013,0.094],"labelExpr":"datum.value<0.05?'0':'0.1'","title":null}}},"layer":[
{"data":{"values":[{"x":0,"y":0.055},{"x":35,"y":0.055},{"x":50,"y":0.06},{"x":61.6,"y":0.053},{"x":72,"y":0.055},{"x":100,"y":0.055}]},"mark":{"type":"line","color":"#000","strokeWidth":2.5}},
{"data":{"values":[{"x":4.7,"y":0.094,"t":"(ii)"}]},"mark":{"type":"text","align":"left"},"encoding":{"text":{"field":"t"}}}]},
{"width":20.5,"height":10,"data":{"values":[]},"mark":"point"},
{"width":63.5,"height":60,"view":{"stroke":"#888"},"encoding":{"x":{"field":"x","type":"quantitative","scale":{"domain":[0,100]},"axis":null},"y":{"field":"y","type":"quantitative","scale":{"domain":[0,1.11]},"axis":{"values":[0.13,0.94],"labelExpr":"datum.value<0.5?'0':'1'","title":null}}},"layer":[
{"data":{"values":[{"x":0,"y":0},{"x":45.5,"y":0},{"x":46.8,"y":0.97},{"x":48.5,"y":1},{"x":51.5,"y":1},{"x":53.2,"y":0.97},{"x":54.5,"y":0},{"x":100,"y":0}]},"mark":{"type":"line","color":"#000","strokeWidth":2.5}},
{"data":{"values":[{"x":4.7,"y":0.94,"t":"(iii)"}]},"mark":{"type":"text","align":"left"},"encoding":{"text":{"field":"t"}}}]},
{"width":20.5,"height":10,"data":{"values":[]},"mark":"point"},
{"width":63.5,"height":60,"view":{"stroke":"#888"},"encoding":{"x":{"field":"x","type":"quantitative","scale":{"domain":[0,100]},"axis":null},"y":{"field":"y","type":"quantitative","scale":{"domain":[0,1.11]},"axis":{"values":[0.13,0.94],"labelExpr":"datum.value<0.5?'0':'1'","title":null}}},"layer":[
{"data":{"values":[{"x":0,"y":0},{"x":44.5,"y":0},{"x":46.5,"y":0.3},{"x":48,"y":0.9},{"x":49.5,"y":1},{"x":51,"y":0.9},{"x":52.5,"y":0.3},{"x":54.5,"y":0},{"x":100,"y":0}]},"mark":{"type":"line","color":"#000","strokeWidth":2.5}},
{"data":{"values":[{"x":4.7,"y":0.94,"t":"(iv)"}]},"mark":{"type":"text","align":"left"},"encoding":{"text":{"field":"t"}}}]}
],"spacing":0,"bounds":"flush"}
],"spacing":7}
],"spacing":22.5}
